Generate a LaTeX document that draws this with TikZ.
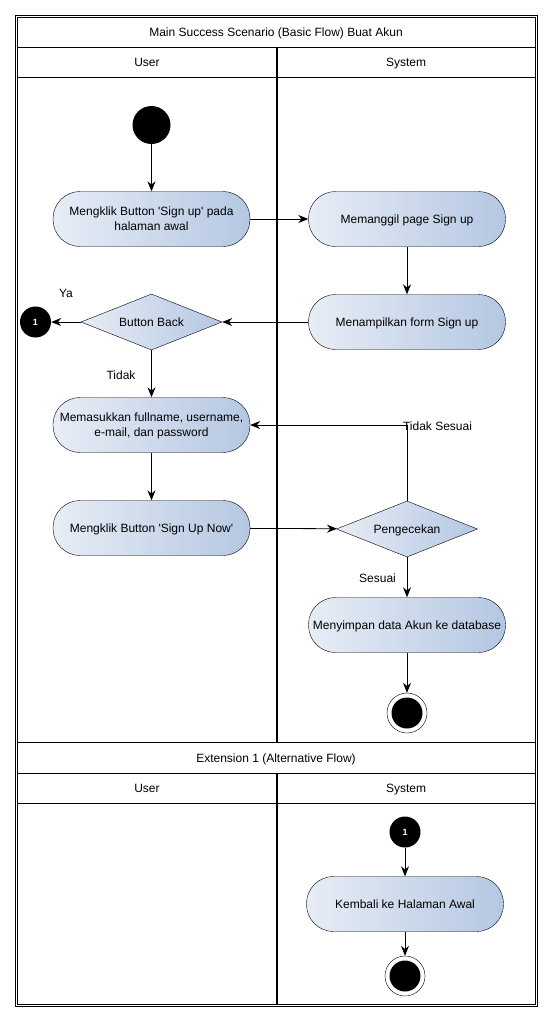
\documentclass[tikz,border=0pt]{standalone}
\usepackage{fontspec}
\setmainfont{Liberation Sans}
\usetikzlibrary{shapes.geometric,arrows.meta}
\definecolor{flowlight}{RGB}{232,237,246}
\definecolor{flowdark}{RGB}{180,199,226}

\begin{document}
\begin{tikzpicture}[x=1pt,y=-1pt,
    font=\fontsize{12}{15}\selectfont,
    every node/.style={text depth=0pt},
    action/.style={draw=black,rounded corners=27pt,minimum width=197pt,minimum height=55pt,align=center,inner sep=2pt,left color=flowlight,right color=flowdark},
    decision/.style={shape=diamond,aspect=2.5,draw=black,minimum width=141pt,minimum height=56pt,inner sep=0pt,left color=flowlight,right color=flowdark},
    startnode/.style={shape=circle,fill=black,minimum size=38pt,inner sep=0pt},
    endnode/.style={shape=circle,draw=black,fill=white,minimum size=40pt,inner sep=0pt,path picture={\fill[black] (path picture bounding box.center) circle (15.5pt);}},
    connector/.style={shape=circle,fill=black,text=white,minimum size=31pt,inner sep=0pt,font=\fontsize{9}{10}\selectfont\bfseries},
    flow/.style={-{Stealth[length=10pt,width=8pt]},line width=0.8pt},
    lane/.style={line width=1pt},
    divider/.style={line width=1.6pt}]

    \useasboundingbox (0,0) rectangle (554,1023);
    \draw[line width=0.8pt] (15.3,15.3) rectangle (537.2,1006.2);
    \draw[line width=0.8pt] (17.2,17.2) rectangle (535.3,1004.3);
    \draw[lane] (17,47.3) -- (535,47.3);
    \draw[lane] (17,77.3) -- (535,77.3);
    \draw[lane] (17,742.7) -- (535,742.7);
    \draw[lane] (17,773.3) -- (535,773.3);
    \draw[lane] (17,803.3) -- (535,803.3);
    \draw[divider] (276.7,47.3) -- (276.7,742.7);
    \draw[divider] (276.7,773.3) -- (276.7,1004);

    \node (title) at (276,32) {Main Success Scenario (Basic Flow) Buat Akun};
    \node (user) at (147,62) {User};
    \node (system) at (406,62) {System};
    \node (title2) at (276,758) {Extension 1 (Alternative Flow)};
    \node (user2) at (147,788) {User};
    \node (system2) at (406,788) {System};

    \node[startnode] (1) at (151.5,125) {};
    \node[action] (2) at (151.5,219) {Mengklik Button \textquotesingle Sign up\textquotesingle\ pada\\halaman awal};
    \node[action] (3) at (407,219) {Memanggil page Sign up};
    \node[action] (4) at (407,322) {Menampilkan form Sign up};
    \node[decision] (5) at (151.5,322) {Button Back};
    \node[connector] (6) at (35.5,322) {1};
    \node[action] (7) at (151.5,425) {Memasukkan fullname, username,\\e-mail, dan password};
    \node[action] (8) at (151.5,528) {Mengklik Button \textquotesingle Sign Up Now\textquotesingle};
    \node[decision] (9) at (407,529) {Pengecekan};
    \node[action] (10) at (407,625) {Menyimpan data Akun ke database};
    \node[endnode] (11) at (407,713) {};
    \node[connector] (12) at (405,832) {1};
    \node[action] (13) at (405,904) {Kembali ke Halaman Awal};
    \node[endnode] (14) at (405,976) {};

    \node (ya) at (66,293) {Ya};
    \node (tidak) at (121,375) {Tidak};
    \node (tidaksesuai) at (437.5,426) {Tidak Sesuai};
    \node (sesuai) at (377.5,578) {Sesuai};

    \path[flow] (1) edge (2);
    \path[flow] (2) edge (3);
    \path[flow] (3) edge (4);
    \path[flow] (4) edge (5);
    \path[flow] (5) edge (6);
    \path[flow] (5) edge (7);
    \path[flow] (7) edge (8);
    \path[flow] (8) edge (9);
    \draw[flow] (9.north) |- (7.east);
    \path[flow] (9) edge (10);
    \path[flow] (10) edge (11);
    \path[flow] (12) edge (13);
    \path[flow] (13) edge (14);
\end{tikzpicture}
\end{document}
